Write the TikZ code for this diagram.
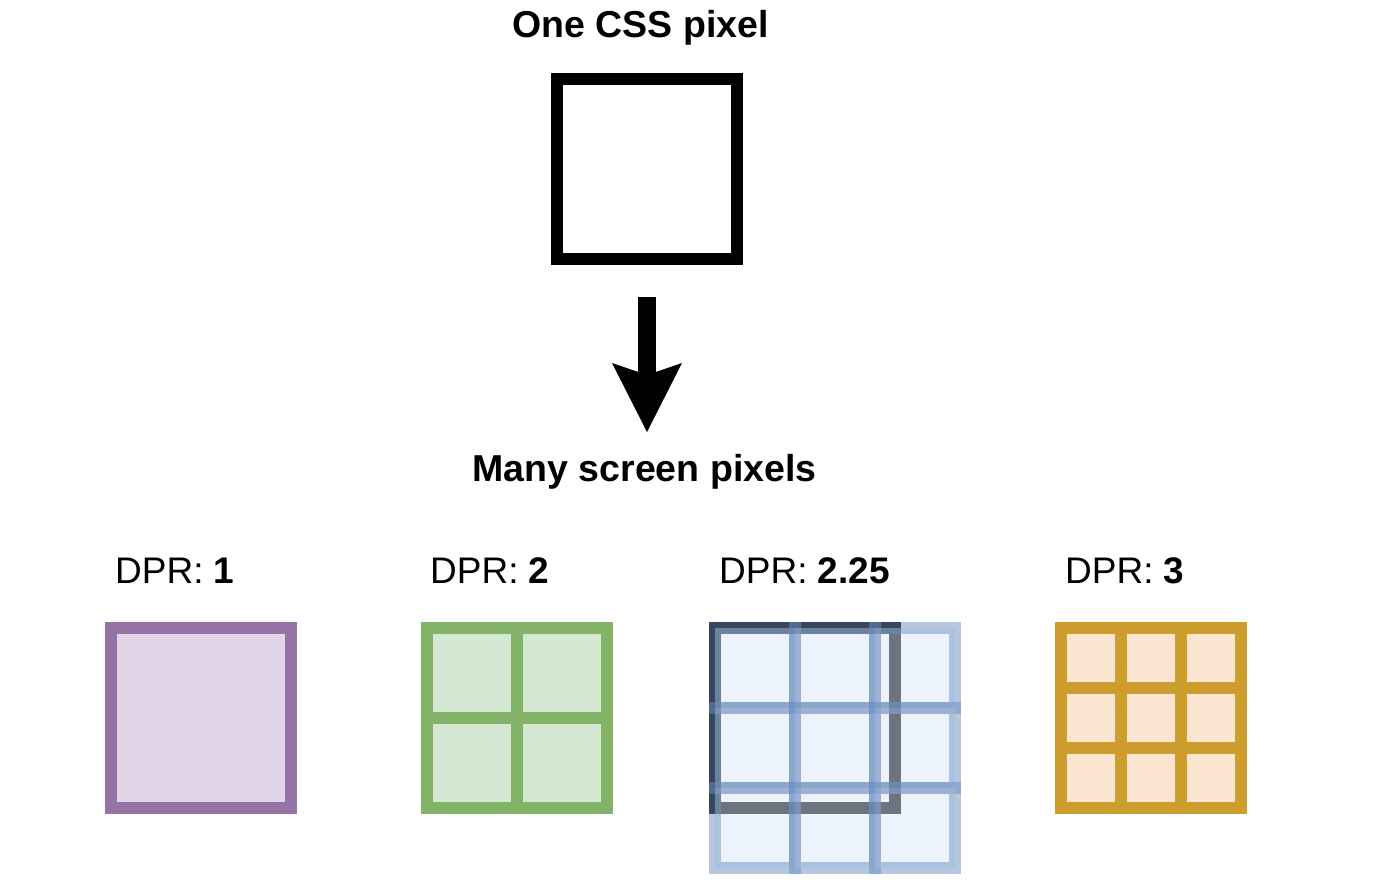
\documentclass[tikz,border=0pt]{standalone}
\usepackage{fontspec}
\setmainfont{Liberation Sans}
\usetikzlibrary{arrows.meta,calc}
\definecolor{purpleline}{HTML}{9673A6}
\definecolor{purplefill}{HTML}{E1D5E7}
\definecolor{greenline}{HTML}{82B366}
\definecolor{greenfill}{HTML}{D5E8D4}
\definecolor{blueline}{HTML}{6C8EBF}
\definecolor{bluefill}{HTML}{DAE8FC}
\definecolor{orangeline}{HTML}{CD9D2E}
\definecolor{orangefill}{HTML}{FAE6D0}
\begin{document}
\begin{tikzpicture}[x=1pt,y=-1pt,
        pixbox/.style={draw,line width=12pt,minimum size=180pt,inner sep=0pt,outer sep=0pt},
        bluecell/.style={draw=blueline,fill=bluefill,opacity=0.5,line width=12pt,minimum size=80pt,inner sep=0pt,outer sep=0pt},
        heading/.style={font=\fontsize{37.5}{42}\selectfont\bfseries,anchor=base,inner sep=0pt},
        dprlabel/.style={font=\fontsize{37}{42}\selectfont,anchor=base west,inner sep=0pt}]
        \useasboundingbox (0,0) rectangle (1374,892);
        % top: one css pixel
        \node[heading] (title) at (640.5,37.5) {One CSS pixel};
        \node[pixbox,draw=black,fill=white] (css) at (647,169) {};
        \coordinate (arrowtail) at (647,297);
        \coordinate (arrowtip) at (647,432);
        \draw[line width=18pt,-{Stealth[length=69pt,width=70pt,inset=12pt,line width=0pt]}] (arrowtail) -- (arrowtip);
        \node[heading] (many) at (644.5,481.5) {Many screen pixels};
        % labels
        \foreach \x/\n/\l in {115/dpra/1,430/dprb/2,719/dprc/2.25,1065/dprd/3}{
            \node[dprlabel] (\n) at (\x,583.5) {DPR: \textbf{\l}};
        }
        % dpr 1
        \node[pixbox,draw=purpleline,fill=purplefill] (grida) at (201,718) {};
        % dpr 2
        \node[pixbox,draw=greenline,fill=greenfill] (gridb) at (517,718) {};
        \draw[line width=12pt,greenline] (gridb.north) -- (gridb.south);
        \draw[line width=12pt,greenline] (gridb.west) -- (gridb.east);
        % dpr 2.25
        \node[pixbox,draw=black,fill=white] (gridc) at (805,718) {};
        \foreach \i in {0,1,2}{
            \foreach \j in {0,1,2}{
                \node[bluecell] (c\i\j) at (755+80*\i,668+80*\j) {};
            }
        }
        % dpr 3
        \node[pixbox,draw=orangeline,fill=orangefill] (gridd) at (1151,718) {};
        \foreach \f in {0.3333,0.6667}{
            \draw[line width=12pt,orangeline] ($(gridd.north west)!\f!(gridd.north east)$) -- ($(gridd.south west)!\f!(gridd.south east)$);
            \draw[line width=12pt,orangeline] ($(gridd.north west)!\f!(gridd.south west)$) -- ($(gridd.north east)!\f!(gridd.south east)$);
        }
    \end{tikzpicture}
\end{document}
